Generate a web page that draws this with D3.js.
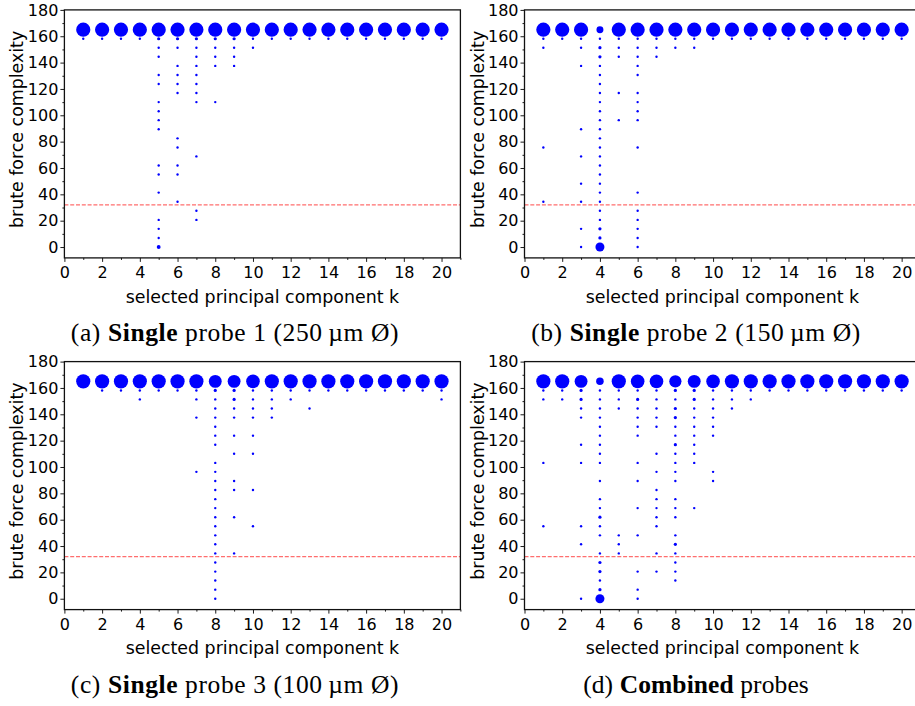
<!DOCTYPE html>
<html>
<head>
<meta charset="utf-8">
<script src="https://cdn.jsdelivr.net/npm/d3@7"></script>
<style>
  body { margin: 0; background: #fff; }
  svg { display: block; }
</style>
</head>
<body>
<svg id="fig" width="915" height="706"></svg>
<script>
// Principal components k on the horizontal axis
const kValues = [1, 2, 3, 4, 5, 6, 7, 8, 9, 10, 11, 12, 13, 14, 15, 16, 17, 18, 19, 20];
const xTickValues = [0, 2, 4, 6, 8, 10, 12, 14, 16, 18, 20];
const xMinorTickValues = [1, 3, 5, 7, 9, 11, 13, 15, 17, 19, 21];
const yTickValues = [0, 20, 40, 60, 80, 100, 120, 140, 160, 180];
const yMinorTickValues = [10, 30, 50, 70, 90, 110, 130, 150, 170];

// Complexity reached by the bulk of the runs, and the feasibility threshold
const topComplexity = 165;
const thresholdComplexity = 32;

// Number of runs that stay at the top complexity, per k
const probe1Top = [49, 49, 49, 49, 49, 49, 49, 49, 49, 49, 49, 49, 49, 49, 49, 49, 49, 49, 49, 49];
const probe2Top = [49, 49, 49, 11, 49, 49, 49, 49, 49, 49, 49, 49, 49, 49, 49, 49, 49, 49, 49, 49];
const probe3Top = [49, 49, 49, 49, 49, 49, 49, 40, 40, 45, 49, 49, 49, 49, 49, 49, 49, 49, 49, 49];
const combinedTop = [49, 49, 40, 13, 49, 45, 45, 36, 40, 45, 49, 49, 49, 49, 49, 49, 49, 49, 49, 49];

// Lower complexities reached, per k; a bare number is a single run,
// a pair is [complexity, number of runs]
const probe1Spread = [
  [158.1], [158.1], [158.1], [158.1],
  [[158.1, 2], 151.3, 144.4, 130.6, 123.8, 110, 103.1, 96.3, 89.4, 61.9, 55, 41.3, 20.6, 13.8, 6.9, [0, 3]],
  [[158.1, 2], 151.3, 137.5, 130.6, 123.8, 116.9, 82.5, 75.6, 61.9, 55, 34.4],
  [[158.1, 2], 151.3, 144.4, 137.5, 130.6, 123.8, 116.9, 110, 68.8, 27.5, 20.6],
  [[158.1, 2], 151.3, 144.4, 137.5, 110],
  [[158.1, 2], 151.3, 144.4, 137.5],
  [158.1, 151.3],
  [158.1], [158.1], [158.1], [158.1], [158.1], [158.1], [158.1], [158.1], [158.1], [158.1]
];

const probe2Spread = [
  [158.1, 151.3, 75.6, 34.4],
  [158.1],
  [158.1, 151.3, 137.5, 89.4, 68.8, 48.1, 34.4, 13.8, 0],
  [158.1, [151.3, 2], [144.4, 2], 137.5, 130.6, 123.8, 116.9, 110, 103.1, 96.3, 89.4, 82.5, 75.6,
   68.8, 61.9, 55, 48.1, 41.3, 34.4, 27.5, 20.6, [13.8, 2], [6.9, 2], [0, 19]],
  [158.1, 151.3, 144.4, 116.9, 96.3],
  [158.1, 151.3, 144.4, 137.5, 130.6, 116.9, 110, 103.1, 96.3, 75.6, 41.3, 27.5, 20.6, 13.8, 6.9, 0],
  [158.1, 151.3, 144.4],
  [158.1, 151.3],
  [158.1, 151.3],
  [158.1], [158.1], [158.1], [158.1], [158.1], [158.1], [158.1], [158.1], [158.1], [158.1], [158.1]
];

const probe3Spread = [
  [],
  [158.1], [158.1],
  [158.1, 151.3],
  [158.1], [158.1],
  [158.1, 151.3, 137.5, 96.3],
  [[158.1, 2], 151.3, 144.4, 137.5, 130.6, 123.8, 116.9, 103.1, 96.3, 89.4, 82.5, 75.6, 68.8,
   61.9, 55, 48.1, 41.3, 34.4, 27.5, 20.6, 13.8, 6.9, 0],
  [[158.1, 2], [151.3, 2], 144.4, 137.5, 123.8, 110, 89.4, 82.5, 61.9, 34.4],
  [158.1, 151.3, 144.4, 137.5, 123.8, 110, 82.5, 55],
  [158.1, 151.3, 144.4, 137.5],
  [158.1, 151.3],
  [158.1, 144.4],
  [158.1], [158.1], [158.1], [158.1], [158.1], [158.1],
  [158.1, 151.3]
];

const combinedSpread = [
  [158.1, 151.3, 103.1, 55],
  [158.1, 151.3],
  [[158.1, 2], [151.3, 2], 144.4, 137.5, 116.9, 103.1, 55, 41.3, 0],
  [158.1, 151.3, 144.4, 137.5, 130.6, 123.8, 116.9, 110, 103.1, 89.4, 75.6, 68.8, [61.9, 2], 55,
   48.1, 34.4, [27.5, 2], [20.6, 2], 13.8, [6.9, 2], [0, 19]],
  [158.1, 151.3, 144.4, 48.1, 41.3, 34.4],
  [158.1, [151.3, 2], 144.4, 137.5, 130.6, 123.8, 103.1, 89.4, 68.8, 48.1, 20.6, 6.9, 0],
  [158.1, 151.3, 144.4, 137.5, 130.6, 110, 96.3, 82.5, 75.6, 68.8, 61.9, 55, 34.4, 20.6],
  [[158.1, 2], 151.3, [144.4, 2], [137.5, 2], 130.6, 123.8, [116.9, 2], 110, 103.1, 96.3, 89.4,
   75.6, 68.8, 61.9, 48.1, [41.3, 2], 34.4, 27.5, 20.6, 13.8],
  [[158.1, 2], [151.3, 2], 144.4, 137.5, 130.6, 123.8, 116.9, 110, 103.1, 68.8],
  [158.1, 151.3, 144.4, 137.5, 130.6, 123.8, 96.3, 89.4],
  [158.1, 151.3, 144.4],
  [158.1, 151.3],
  [158.1], [158.1], [158.1], [158.1], [158.1], [158.1], [158.1], [158.1]
];

// Subfigure captions: label, bold word, rest
const captionA = ["(a) ", "Single", " probe 1 (250\u2009\u00b5m \u00d8)"];
const captionB = ["(b) ", "Single", " probe 2 (150\u2009\u00b5m \u00d8)"];
const captionC = ["(c) ", "Single", " probe 3 (100\u2009\u00b5m \u00d8)"];
const captionD = ["(d) ", "Combined", " probes"];

// Layout of the four axes (pixel boxes)
const panels = [
  { top: probe1Top, spread: probe1Spread, caption: captionA, x0: 64.4, y0: 9.9, capX: 235, capY: 341, capSpacing: 0.6 },
  { top: probe2Top, spread: probe2Spread, caption: captionB, x0: 524.5, y0: 9.9, capX: 696, capY: 341, capSpacing: 0.6 },
  { top: probe3Top, spread: probe3Spread, caption: captionC, x0: 64.4, y0: 361.6, capX: 235, capY: 692.5, capSpacing: 0.6 },
  { top: combinedTop, spread: combinedSpread, caption: captionD, x0: 524.5, y0: 361.6, capX: 696, capY: 692.5, capSpacing: 0.1 }
];
const plotW = 396, plotH = 248;

const svg = d3.select("#fig");
const sansFont = "'DejaVu Sans', sans-serif";
const serifFont = "'Liberation Serif', 'DejaVu Serif', serif";
const tickSize = 16;
const titleSize = 17.4;

// Marker area grows with the number of runs
const radius = d3.scaleSqrt().domain([1, 49]).range([1.2, 7.1]);

panels.forEach(p => {
  const x = d3.scaleLinear().domain([0, 21]).range([p.x0, p.x0 + plotW]);
  const y = d3.scaleLinear().domain([-8.25, 180]).range([p.y0 + plotH, p.y0]);
  const g = svg.append("g");

  // Flatten per-k lists into points
  const points = [];
  kValues.forEach((k, i) => {
    points.push({ k, v: topComplexity, n: p.top[i] });
    p.spread[i].forEach(item => {
      const [v, n] = typeof item === "number" ? [item, 1] : item;
      points.push({ k, v, n });
    });
  });

  // Threshold line
  g.append("line")
    .attr("x1", x(0)).attr("x2", x(21))
    .attr("y1", y(thresholdComplexity)).attr("y2", y(thresholdComplexity))
    .attr("stroke", "#ff2020").attr("stroke-opacity", 0.65)
    .attr("stroke-width", 1.3).attr("stroke-dasharray", "4,1.8");

  // Points
  g.append("g").selectAll("circle").data(points).join("circle")
    .attr("cx", d => x(d.k))
    .attr("cy", d => y(d.v))
    .attr("r", d => radius(d.n))
    .attr("fill", "#0000ff");

  // Axes
  const xAxis = g.append("g").attr("transform", `translate(0,${p.y0 + plotH})`)
    .call(d3.axisBottom(x).tickValues(xTickValues).tickSize(4).tickPadding(5.2).tickFormat(d3.format("d")));
  g.append("g").attr("transform", `translate(0,${p.y0 + plotH})`)
    .call(d3.axisBottom(x).tickValues(xMinorTickValues).tickSize(2).tickFormat(""))
    .call(a => a.select(".domain").remove());
  const yAxis = g.append("g").attr("transform", `translate(${p.x0},0)`)
    .call(d3.axisLeft(y).tickValues(yTickValues).tickSize(4).tickPadding(2).tickFormat(d3.format("d")));
  g.append("g").attr("transform", `translate(${p.x0},0)`)
    .call(d3.axisLeft(y).tickValues(yMinorTickValues).tickSize(2).tickFormat(""))
    .call(a => a.select(".domain").remove());

  [xAxis, yAxis].forEach(a => {
    a.selectAll("text").attr("font-family", sansFont).attr("font-size", tickSize).attr("fill", "#000");
    a.select(".domain").remove();
  });
  g.selectAll(".tick line").attr("stroke", "#000").attr("stroke-width", 0.9);

  // Frame
  g.append("rect")
    .attr("x", p.x0).attr("y", p.y0).attr("width", plotW).attr("height", plotH)
    .attr("fill", "none").attr("stroke", "#111").attr("stroke-width", 1.3);

  // Axis titles
  g.append("text")
    .attr("x", p.x0 + plotW / 2).attr("y", p.y0 + plotH + 44.6)
    .attr("text-anchor", "middle")
    .attr("font-family", sansFont).attr("font-size", titleSize)
    .text("selected principal component k");
  g.append("text")
    .attr("transform", `translate(${p.x0 - 41},${p.y0 + 119.5}) rotate(-90)`)
    .attr("text-anchor", "middle")
    .attr("font-family", sansFont).attr("font-size", titleSize)
    .text("brute force complexity");

  // Caption
  const cap = g.append("text")
    .attr("x", p.capX).attr("y", p.capY)
    .attr("text-anchor", "middle")
    .attr("font-family", serifFont).attr("font-size", 25.5)
    .attr("letter-spacing", p.capSpacing);
  cap.append("tspan").text(p.caption[0]);
  cap.append("tspan").attr("font-weight", "bold").text(p.caption[1]);
  cap.append("tspan").text(p.caption[2]);
});
</script>
</body>
</html>
